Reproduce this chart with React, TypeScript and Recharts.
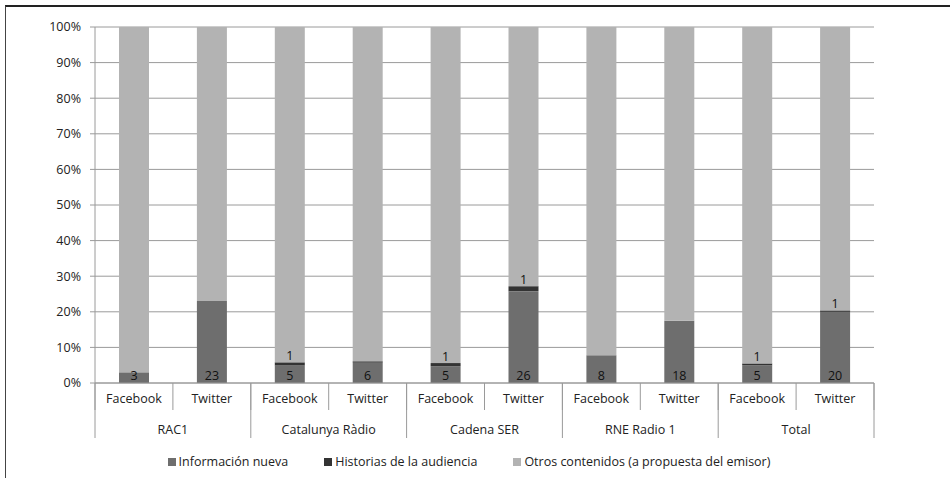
import React from 'react';
import { BarChart, Bar, XAxis, YAxis, CartesianGrid, Legend, LabelList } from 'recharts';

const platforms = ['Facebook', 'Twitter', 'Facebook', 'Twitter', 'Facebook', 'Twitter', 'Facebook', 'Twitter', 'Facebook', 'Twitter'];
const groups = ['RAC1', 'RAC1', 'Catalunya Ràdio', 'Catalunya Ràdio', 'Cadena SER', 'Cadena SER', 'RNE Radio 1', 'RNE Radio 1', 'Total', 'Total'];
const infoValues = [3, 23, 4.9, 5.7, 4.7, 25.8, 7.8, 17.5, 5.0, 20.0];
const histValues = [0, 0, 0.9, 0.4, 0.9, 1.4, 0, 0, 0.5, 0.4];
const otherValues = [97, 77, 94.2, 93.9, 94.4, 72.8, 92.2, 82.5, 94.5, 79.6];
const infoLabels = [3, 23, 5, 6, 5, 26, 8, 18, 5, 20];
const histLabels = [null, null, 1, null, 1, 1, null, null, 1, 1];
const yTicks = [0, 10, 20, 30, 40, 50, 60, 70, 80, 90, 100];
const seriesNames = ['Información nueva', 'Historias de la audiencia', 'Otros contenidos (a propuesta del emisor)'];

const COLORS = ['#6e6e6e', '#333333', '#b3b3b3'];
const FONT = "'Open Sans', sans-serif";
const FS = 12.5;
const LINE = '#9a9a9a';

const data = platforms.map((p, i) => ({
  platform: p,
  group: groups[i],
  info: infoValues[i],
  hist: histValues[i],
  other: otherValues[i],
  infoLabel: infoLabels[i],
  histLabel: histLabels[i],
}));

const PlatformTick = (props: any) => {
  const { x, y, payload, index } = props;
  const half = payload && typeof payload.offset === 'number' && payload.offset > 0 ? payload.offset : 39;
  const last = index === data.length - 1;
  return (
    <g>
      <line x1={x - half} x2={x - half} y1={y} y2={y + 27} stroke={LINE} strokeWidth={1} />
      {last && <line x1={x + half} x2={x + half} y1={y} y2={y + 27} stroke={LINE} strokeWidth={1} />}
      <text x={x} y={y + 15} textAnchor="middle" dominantBaseline="central" fontFamily={FONT} fontSize={FS} fill="#222">
        {payload.value}
      </text>
    </g>
  );
};

const GroupTick = (props: any) => {
  const { x, y, payload, index } = props;
  const half = payload && typeof payload.offset === 'number' && payload.offset > 0 ? payload.offset : 39;
  const last = index === data.length - 1;
  const first = index % 2 === 0;
  return (
    <g>
      {first && <line x1={x - half} x2={x - half} y1={y - 28} y2={y + 27} stroke={LINE} strokeWidth={1} />}
      {last && <line x1={x + half} x2={x + half} y1={y - 28} y2={y + 27} stroke={LINE} strokeWidth={1} />}
      {first && (
        <text x={x + half} y={y + 18} textAnchor="middle" dominantBaseline="central" fontFamily={FONT} fontSize={FS} fill="#222">
          {payload.value}
        </text>
      )}
    </g>
  );
};

const renderLegend = (props: any) => {
  const payload = [...(props.payload || [])].sort(
    (a: any, b: any) => seriesNames.indexOf(a.value) - seriesNames.indexOf(b.value)
  );
  return (
    <div style={{ display: 'flex', justifyContent: 'center', gap: 36, fontFamily: FONT, fontSize: FS, color: '#222' }}>
      {payload.map((p: any) => (
        <span key={p.value} style={{ display: 'flex', alignItems: 'center' }}>
          <span style={{ width: 8, height: 8, background: p.color, marginRight: 3, display: 'inline-block' }} />
          {p.value}
        </span>
      ))}
    </div>
  );
};

export default function App() {
  return (
    <div style={{ position: 'absolute', left: 0, top: 0, width: 950, height: 478, background: '#fff', overflow: 'hidden' }}>
      <div style={{ position: 'absolute', left: 5, top: 5, width: 960, height: 500, borderTop: '2px solid #222', borderLeft: '1.5px solid #444' }} />
      <div style={{ position: 'absolute', left: 0, top: 0 }}>
        <BarChart width={950} height={478} data={data} margin={{ top: 27, right: 76, left: 10, bottom: 40 }} barSize={30}>
          <CartesianGrid vertical={false} stroke={LINE} strokeWidth={1} />
          <XAxis
            dataKey="platform"
            xAxisId={0}
            height={28}
            tickSize={0}
            tickMargin={0}
            tickLine={false}
            axisLine={{ stroke: LINE }}
            interval={0}
            tick={<PlatformTick />}
          />
          <XAxis
            dataKey="group"
            xAxisId="grp"
            height={27}
            tickSize={0}
            tickMargin={0}
            tickLine={false}
            axisLine={false}
            interval={0}
            tick={<GroupTick />}
          />
          <YAxis
            width={85}
            domain={[0, 100]}
            ticks={yTicks}
            interval={0}
            tickFormatter={(v: number) => `${v}%`}
            tickSize={5}
            tickMargin={9}
            tickLine={{ stroke: LINE }}
            axisLine={{ stroke: LINE }}
            tick={{ fontFamily: FONT, fontSize: FS, fill: '#222' }}
          />
          <Legend
            layout="horizontal"
            verticalAlign="middle"
            align="center"
            content={renderLegend}
            wrapperStyle={{ top: 453, left: 0, width: 938 }}
          />
          <Bar dataKey="info" name={seriesNames[0]} stackId="a" fill={COLORS[0]} isAnimationActive={false}>
            <LabelList dataKey="infoLabel" position="insideBottom" offset={3} fontFamily={FONT} fontSize={FS} fill="#111" />
          </Bar>
          <Bar dataKey="hist" name={seriesNames[1]} stackId="a" fill={COLORS[1]} isAnimationActive={false}>
            <LabelList dataKey="histLabel" position="top" offset={2} fontFamily={FONT} fontSize={FS} fill="#111" />
          </Bar>
          <Bar dataKey="other" name={seriesNames[2]} stackId="a" fill={COLORS[2]} isAnimationActive={false} />
        </BarChart>
      </div>
    </div>
  );
}
